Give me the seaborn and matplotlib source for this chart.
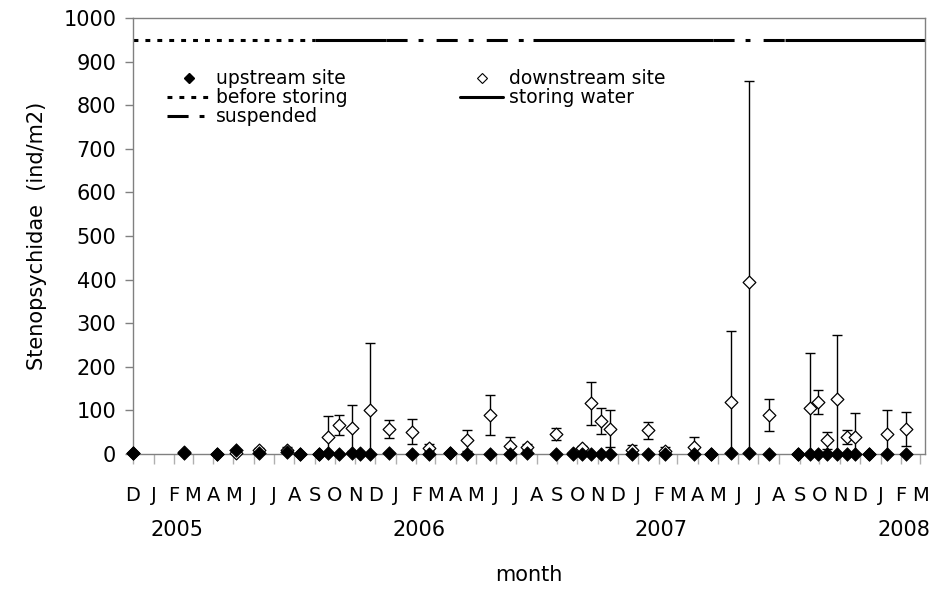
import pandas as pd
import numpy as np
import matplotlib
matplotlib.use("Agg")
import matplotlib.pyplot as plt
import matplotlib.dates as mdates
from matplotlib.lines import Line2D
import seaborn as sns

# sampling dates and densities (ind/m2)
sample_dates = [
    "2004-12-01", "2005-02-16", "2005-04-07", "2005-05-05", "2005-06-09",
    "2005-07-21", "2005-08-10", "2005-09-07", "2005-09-21", "2005-10-07",
    "2005-10-27", "2005-11-08", "2005-11-23", "2005-12-22", "2006-01-25",
    "2006-02-20", "2006-03-24", "2006-04-18", "2006-05-22", "2006-06-22",
    "2006-07-18", "2006-08-30", "2006-09-25", "2006-10-09", "2006-10-22",
    "2006-11-06", "2006-11-20", "2006-12-22", "2007-01-16", "2007-02-11",
    "2007-03-26", "2007-04-21", "2007-05-20", "2007-06-17", "2007-07-17",
    "2007-08-30", "2007-09-16", "2007-09-29", "2007-10-13", "2007-10-28",
    "2007-11-11", "2007-11-24", "2007-12-14", "2008-01-11", "2008-02-09",
]
upstream = [
    2, 3, 1, 9, 2, 4, 1, 1, 2, 1,
    2, 1, 1, 2, 1, 1, 2, 1, 1, 1,
    2, 1, 1, 1, 1, 1, 1, 1, 1, 1,
    1, 1, 2, 2, 1, 1, 1, 1, 1, 1,
    1, 1, 1, 1, 1,
]
downstream = [
    3, 5, 1, 2, 9, 9, 1, 1, 40, 66,
    60, 2, 101, 57, 51, 14, 2, 31, 89, 19,
    17, 46, 2, 13, 116, 76, 58, 9, 54, 8,
    17, 1, 119, 395, 89, 1, 105, 119, 31, 125,
    38, 40, 1, 47, 58,
]
downstream_sd = [
    0, 2, 0, 2, 4, 6, 0, 0, 47, 23,
    52, 0, 153, 21, 29, 8, 1, 23, 46, 20,
    7, 14, 1, 5, 50, 30, 43, 12, 20, 9,
    21, 0, 164, 460, 37, 0, 126, 28, 20, 147,
    16, 53, 0, 53, 39,
]

# reservoir operation periods along the top of the plot
period_edges = ["2004-12-01", "2005-09-01", "2005-12-17", "2006-07-27",
                "2007-04-24", "2007-08-10", "2008-03-08"]
period_kind = ["before storing", "storing water", "suspended",
               "storing water", "suspended", "storing water"]
period_level = 950

line_styles = {
    "before storing": (0, (1.6, 2.3)),
    "storing water": "-",
    "suspended": (0, (6.9, 3.6, 1.6, 4.3)),
}

df = pd.DataFrame({
    "date": pd.to_datetime(sample_dates),
    "upstream": upstream,
    "downstream": downstream,
    "sd": downstream_sd,
})

sns.set_style("white")
plt.rcParams["font.family"] = ["DejaVu Sans"]
plt.rcParams["text.color"] = "black"
plt.rcParams["axes.labelcolor"] = "black"
plt.rcParams["xtick.labelcolor"] = "black"
plt.rcParams["ytick.labelcolor"] = "black"

fig = plt.figure(figsize=(9.42, 5.94), dpi=100)
ax = fig.add_axes([0.1412, 0.2357, 0.8408, 0.734])

# operation periods
for i, kind in enumerate(period_kind):
    xs = pd.to_datetime([period_edges[i], period_edges[i + 1]])
    ax.plot(xs, [period_level, period_level], color="black", lw=2.2,
            linestyle=line_styles[kind], solid_capstyle="butt",
            dash_capstyle="butt")

# downstream with error bars
ax.errorbar(df["date"], df["downstream"], yerr=df["sd"], fmt="none",
            ecolor="black", elinewidth=1, capsize=3.5, capthick=1, zorder=2)
sns.scatterplot(data=df, x="date", y="downstream", ax=ax, marker="D",
                s=42, facecolor="white", edgecolor="black", linewidth=0.9,
                zorder=3, clip_on=False)
sns.scatterplot(data=df, x="date", y="upstream", ax=ax, marker="D",
                s=48, color="black", edgecolor="black", linewidth=0.5,
                zorder=4, clip_on=False)

ax.set_xlim(pd.Timestamp("2004-12-01"), pd.Timestamp("2008-03-08"))
ax.set_ylim(0, 1000)
ax.set_yticks(np.arange(0, 1001, 100))

ax.xaxis.set_major_locator(mdates.MonthLocator())
ax.xaxis.set_major_formatter(
    plt.FuncFormatter(lambda v, p: mdates.num2date(v).strftime("%b")[0]))
ax.tick_params(axis="x", direction="out", length=7, width=1, color="#b0b0b0",
               labelsize=14, pad=16, bottom=True)
ax.tick_params(axis="y", direction="out", length=6, width=1, color="#808080",
               labelsize=15, pad=6, left=True)

for s in ax.spines.values():
    s.set_color("#808080")
    s.set_linewidth(1)

# year labels under the month letters
trans = matplotlib.transforms.blended_transform_factory(ax.transData, ax.transAxes)
for yr in [2005, 2006, 2007, 2008]:
    ax.text(pd.Timestamp(f"{yr}-02-05"), -0.175, str(yr), transform=trans,
            ha="center", va="center", fontsize=15)

ax.set_xlabel("month", fontsize=15, labelpad=43)
ax.set_ylabel("Stenopsychidae  (ind/m2)", fontsize=15, labelpad=12)

# legend, two columns placed by hand
h_up = Line2D([], [], marker="D", color="black", ls="none", markersize=5)
h_down = Line2D([], [], marker="D", markerfacecolor="white",
                markeredgecolor="black", ls="none", markersize=5,
                markeredgewidth=0.8)
h_before = Line2D([], [], color="black", lw=2.2, ls=line_styles["before storing"])
h_store = Line2D([], [], color="black", lw=2.2, ls=line_styles["storing water"])
h_susp = Line2D([], [], color="black", lw=2.2, ls=line_styles["suspended"])

leg_kw = dict(frameon=False, fontsize=13.5, handlelength=2.3, handletextpad=0.3,
              labelspacing=0.0, borderpad=0, borderaxespad=0, loc="upper left")
leg1 = ax.legend([h_up, h_before, h_susp],
                 ["upstream site", "before storing", "suspended"],
                 bbox_to_anchor=(0.043, 0.882), **leg_kw)
ax.add_artist(leg1)
ax.legend([h_down, h_store], ["downstream site", "storing water"],
          bbox_to_anchor=(0.413, 0.882), **leg_kw)

plt.savefig("out.png", dpi=100)
